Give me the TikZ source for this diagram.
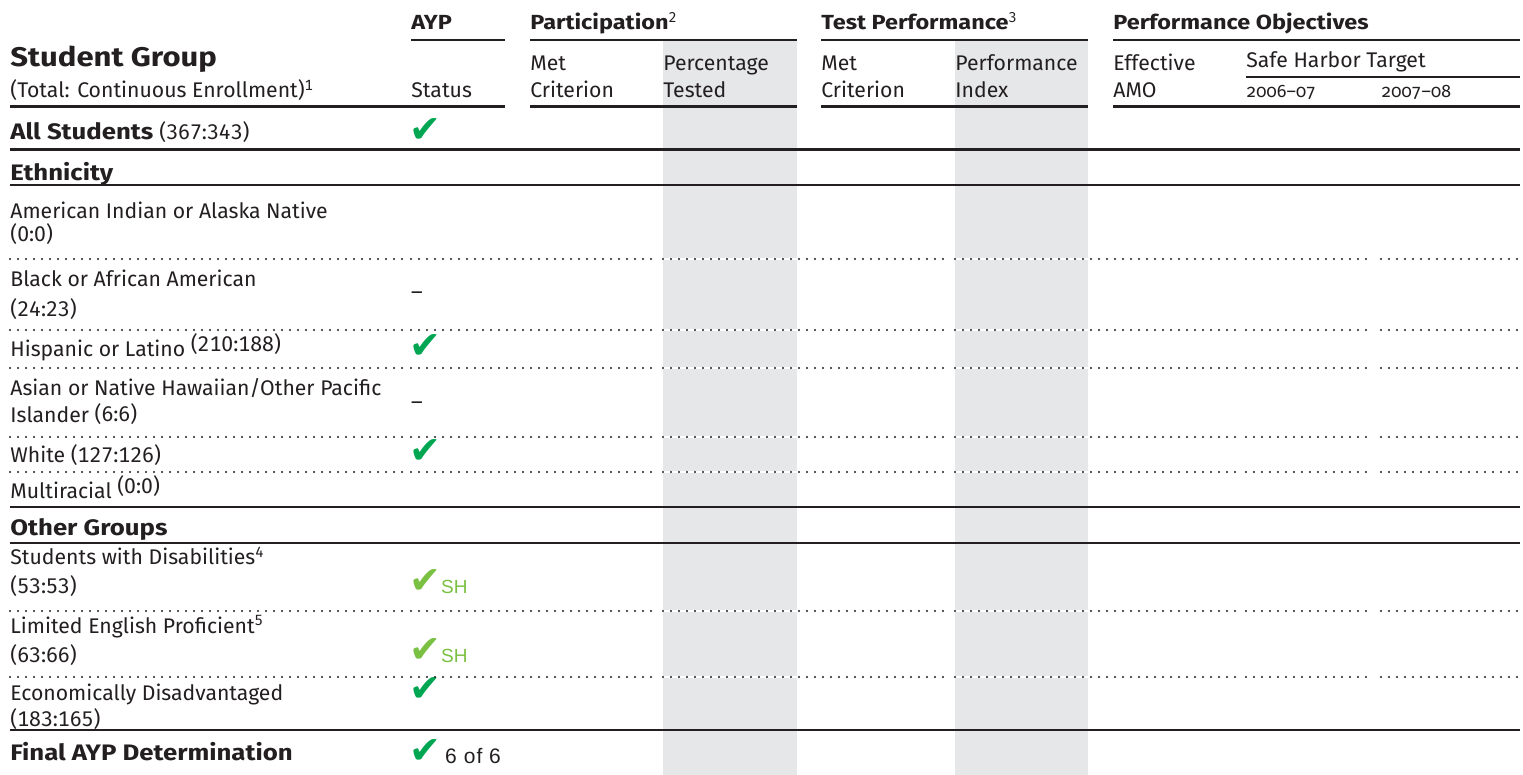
\documentclass[tikz,border=0pt]{standalone}
\usepackage{fontspec}
\setmainfont{Fira Sans}[Numbers=Monospaced, BoldFeatures={FakeStretch=1.15}]
\newfontfamily\symfont{DejaVu Sans}
\newfontfamily\arialfont{Liberation Sans}
\definecolor{ink}{HTML}{231F20}
\definecolor{colgrey}{HTML}{E6E7E8}
\definecolor{okgreen}{HTML}{00A651}
\definecolor{shgreen}{HTML}{7AC143}
\tikzset{
  cell/.style      = {anchor=base west, inner sep=0pt, text=ink,
                      font=\fontsize{10.6}{12}\selectfont},
  colhead/.style   = {cell, font=\fontsize{10.2}{12}\selectfont\bfseries},
  bighead/.style   = {cell, font=\fontsize{13.5}{16}\selectfont\bfseries},
  grphead/.style   = {cell, font=\fontsize{11.2}{13}\selectfont\bfseries},
  year/.style      = {cell, font=\fontsize{9}{10}\selectfont\addfontfeatures{Numbers=OldStyle}},
  tick/.style      = {anchor=base west, inner sep=0pt, text=okgreen,
                      font=\symfont\fontsize{19}{19}\selectfont},
  shtick/.style    = {tick, text=shgreen},
  thinrule/.style  = {draw=ink, line width=0.7pt},
  thickrule/.style = {draw=ink, line width=1.5pt},
  dotrule/.style   = {draw=ink, line width=1.1pt, line cap=round,
                      dash pattern=on 0pt off 4pt}
}
\newcommand{\sh}{{\arialfont\fontsize{9.5}{9}\selectfont SH}}
\newcommand{\up}[2][2.5pt]{\raisebox{#1}{#2}}

\begin{document}
\begin{tikzpicture}[x=0.5pt,y=-0.5pt]
  \useasboundingbox (0,0) rectangle (1523,775);

  % shaded columns
  \fill[colgrey] (663,41) rectangle (797,775);
  \fill[colgrey] (955,41) rectangle (1088,775);

  % header
  \node[colhead] (ayp)  at (411,30)  {AYP};
  \node[colhead] (part) at (530,30)  {Participation\textsuperscript{\mdseries 2}};
  \node[colhead] (test) at (821,30)  {Test Performance\textsuperscript{\mdseries 3}};
  \node[colhead] (obj)  at (1113,30) {Performance Objectives};
  \node[bighead] (grp)  at (10,67)   {Student Group};
  \node[cell] (total)   at (10,98)   {(Total: Continuous Enrollment)\textsuperscript{1}};
  \node[cell] (status)  at (411,98)  {Status};
  \node[cell] (pmet)    at (530,71)  {Met};
  \node[cell] (pcrit)   at (530,98)  {Criterion};
  \node[cell] (ppct)    at (663,71)  {Percentage};
  \node[cell] (ptest)   at (663,98)  {Tested};
  \node[cell] (tmet)    at (821,71)  {Met};
  \node[cell] (tcrit)   at (821,98)  {Criterion};
  \node[cell] (tperf)   at (955,71)  {Performance};
  \node[cell] (tidx)    at (955,98)  {Index};
  \node[cell] (eff)     at (1113,71) {Effective};
  \node[cell] (amo)     at (1113,98) {AMO};
  \node[cell] (safe)    at (1246,68) {Safe Harbor Target};
  \node[year] (y06)     at (1246,98) {2006--07};
  \node[year] (y07)     at (1381,98) {2007--08};

  \foreach \a/\b in {411/505, 530/797, 821/1088, 1113/1520}
    \draw[thinrule] (\a,40) -- (\b,40);
  \draw[draw=ink, line width=1.2pt] (1246,77) -- (1520,77);
  \foreach \a/\b in {10/505, 530/797, 821/1088, 1113/1520}
    \draw[thickrule] (\a,107) -- (\b,107);

  % all students
  \node[grphead] (all)  at (10,140) {All Students {\mdseries\fontsize{10.6}{12}\selectfont(367:343)}};
  \node[tick] (allok)   at (409,143) {✔};
  \draw[thickrule] (10,150) -- (1520,150);

  % ethnicity
  \node[grphead] (eth)  at (10,181) {Ethnicity};
  \draw[thinrule] (10,185) -- (1520,185);
  \node[cell] (amind)   at (10,219) {American Indian or Alaska Native};
  \node[cell] (amindn)  at (10,242) {(0:0)};
  \node[cell] (black)   at (10,287) {Black or African American};
  \node[cell] (blackn)  at (10,317) {(24:23)};
  \node[cell] (blackst) at (411,291) {\_};
  \node[cell] (hisp)    at (10,357) {Hispanic or Latino \up{(210:188)}};
  \node[tick] (hispok)  at (409,359) {✔};
  \node[cell] (asian)   at (10,396) {Asian or Native Hawaiian/Other Pacific};
  \node[cell] (asiann)  at (10,423) {Islander \up[0.7pt]{(6:6)}};
  \node[cell] (asianst) at (411,401) {\_};
  \node[cell] (white)   at (10,463) {White (127:126)};
  \node[tick] (whiteok) at (409,464) {✔};
  \node[cell] (multi)   at (10,499) {Multiracial \up{(0:0)}};
  \draw[thinrule] (10,507) -- (1520,507);

  % other groups
  \node[grphead] (oth)  at (10,536) {Other Groups};
  \draw[thinrule] (10,543) -- (1520,543);
  \node[cell] (swd)     at (10,565) {Students with Disabilities\textsuperscript{4}};
  \node[cell] (swdn)    at (10,594) {(53:53)};
  \node[shtick] (swdok) at (409,594) {✔\sh};
  \node[cell] (lep)     at (10,633) {Limited English Proficient\textsuperscript{5}};
  \node[cell] (lepn)    at (10,662) {(63:66)};
  \node[shtick] (lepok) at (409,662) {✔\sh};
  \node[cell] (eco)     at (10,700) {Economically Disadvantaged};
  \node[cell] (econ)    at (10,726) {(183:165)};
  \node[tick] (ecook)   at (409,701) {✔};
  \draw[draw=ink, line width=1.1pt] (10,730) -- (1520,730);

  % final
  \node[grphead] (fin)  at (10,760) {Final AYP Determination};
  \node[tick] (finok)   at (409,763) {✔\hspace{2pt}{\arialfont\color{ink}\fontsize{10.5}{11}\selectfont\addfontfeatures{LetterSpace=5}6 of 6}};

  % dotted separators
  \foreach \y in {259, 330, 368, 437, 472, 611, 677} {
    \draw[white, line width=0.8pt] (663,\y) -- (797,\y);
    \draw[white, line width=0.8pt] (955,\y) -- (1088,\y);
    \foreach \a/\b in {10/403, 411/655, 663/947, 955/1238, 1246/1373, 1381/1520}
      \draw[dotrule] (\a,\y) -- (\b,\y);
  }
\end{tikzpicture}
\end{document}
